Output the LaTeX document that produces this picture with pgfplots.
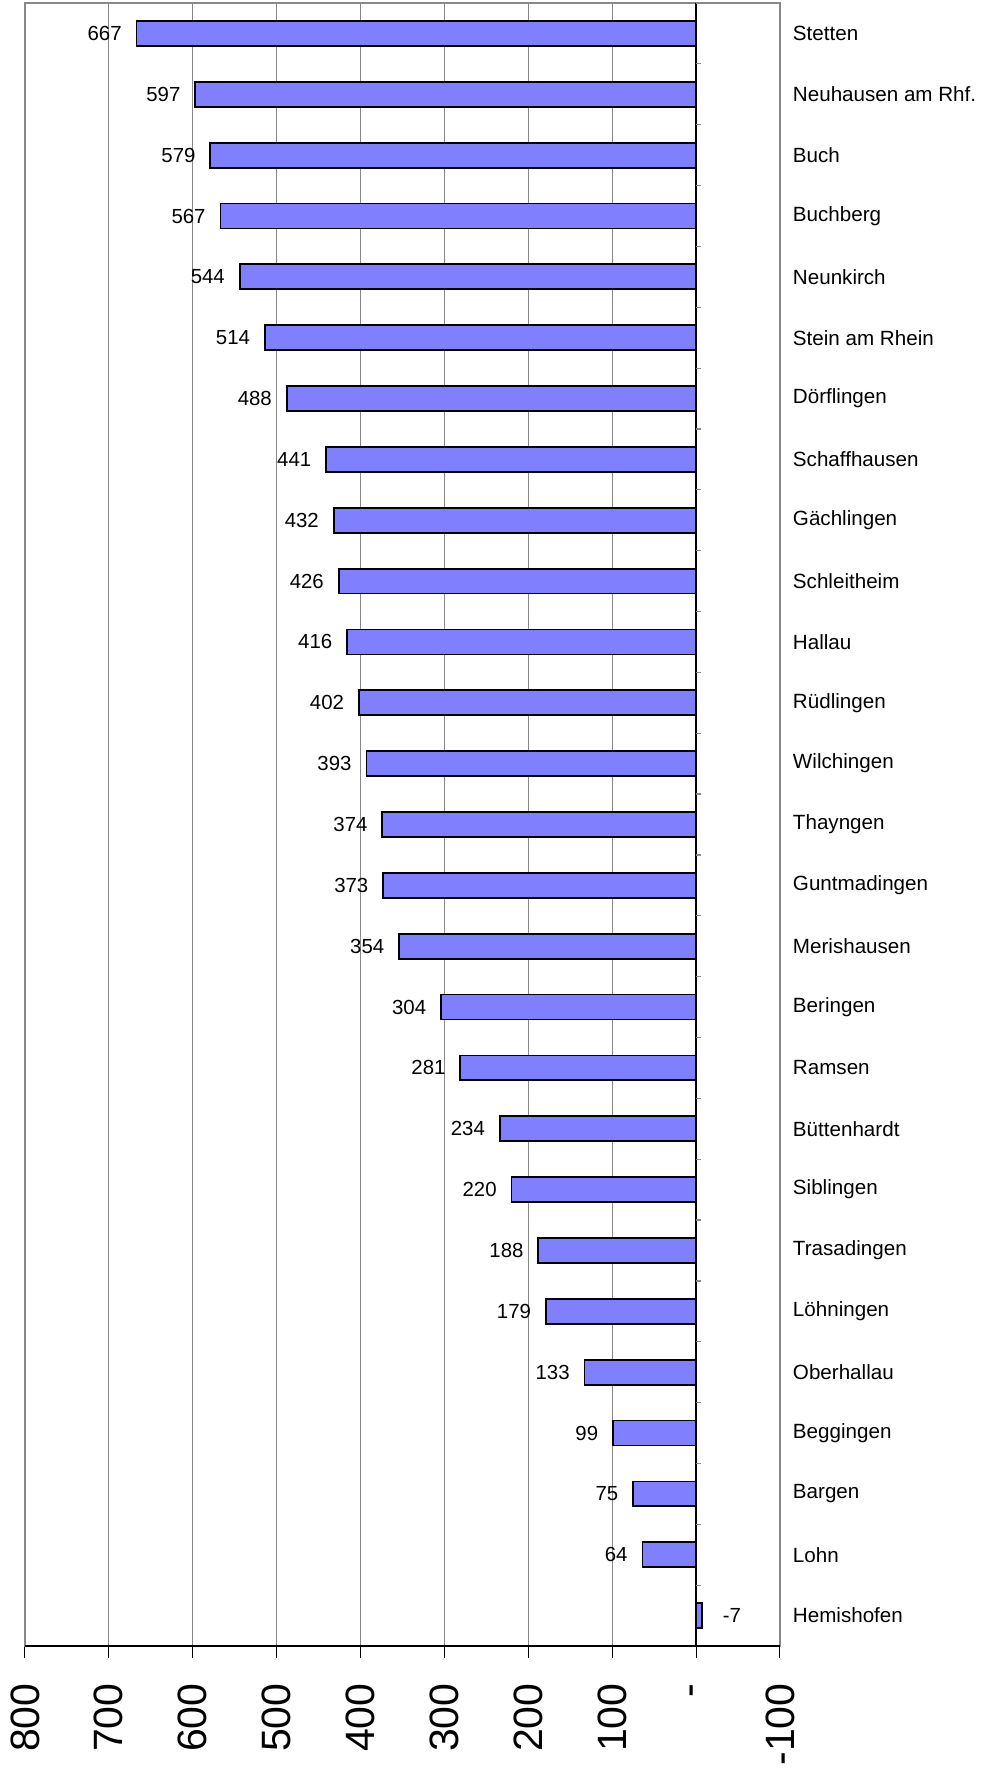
\documentclass[border=0pt]{standalone}
\usepackage{pgfplots}
\pgfplotsset{compat=1.18}
\usepackage{pgfplotstable}
\usepackage{fontspec}
\setmainfont{Liberation Sans}
\definecolor{barfill}{RGB}{128,128,255}
\definecolor{gridgray}{RGB}{136,136,136}

\pgfplotstableread{
idx val
0 667
1 597
2 579
3 567
4 544
5 514
6 488
7 441
8 432
9 426
10 416
11 402
12 393
13 374
14 373
15 354
16 304
17 281
18 234
19 220
20 188
21 179
22 133
23 99
24 75
25 64
}\posdata
\pgfplotstableread{
idx val
26 -7
}\negdata

\begin{document}
\begin{tikzpicture}
\begin{axis}[
  name=ax, scale only axis, width=377.5pt, height=821.5pt,
  xbar, bar width=0.41, bar shift=0pt,
  xmin=-100, xmax=800, x dir=reverse,
  ymin=-0.5, ymax=26.5, y dir=reverse,
  xtick={-100,0,100,200,300,400,500,600,700,800},
  xticklabels={-100,-,100,200,300,400,500,600,700,800},
  xticklabel pos=lower, xtick pos=lower,
  xticklabel style={rotate=90, anchor=east, inner sep=0pt, font=\fontsize{20.5}{24}\selectfont},
  xticklabel shift=12.5pt,
  ytick={0,...,26},
  yticklabels={Stetten,Neuhausen am Rhf.,Buch,Buchberg,Neunkirch,Stein am Rhein,Dörflingen,Schaffhausen,Gächlingen,Schleitheim,Hallau,Rüdlingen,Wilchingen,Thayngen,Guntmadingen,Merishausen,Beringen,Ramsen,Büttenhardt,Siblingen,Trasadingen,Löhningen,Oberhallau,Beggingen,Bargen,Lohn,Hemishofen},
  yticklabel pos=upper,
  yticklabel style={anchor=west, inner sep=0pt, font=\fontsize{10.3}{12}\selectfont},
  yticklabel shift=0.3pt,
  ytick style={draw=none},
  xmajorgrids, major grid style={gridgray, line width=0.5pt},
  axis line style={gridgray, line width=1pt},
  x tick style={black, line width=0.5pt},
  major tick length=6pt, tick align=outside,
  /pgf/number format/assume math mode=true,
  point meta=x,
]
\addplot[fill=barfill, draw=black, line width=0.9pt,
  nodes near coords, nodes near coords align={east},
  every node near coord/.append style={xshift=-7pt, inner sep=0pt, font=\fontsize{10.2}{12}\selectfont, black}]
  table[x=val, y=idx] {\posdata};
\addplot[fill=barfill, draw=black, line width=0.9pt,
  nodes near coords, nodes near coords align={west},
  every node near coord/.append style={xshift=10pt, inner sep=0pt, font=\fontsize{10.2}{12}\selectfont, black}]
  table[x=val, y=idx] {\negdata};
\draw[black, line width=0.6pt] (axis cs:0,-0.5) -- (axis cs:0,26.5);
\pgfplotsinvokeforeach{-0.5,0.5,...,26.5}{
  \draw[gridgray, line width=0.6pt] (axis cs:0,#1) -- (axis cs:-6,#1);
}
\draw[black, line width=1pt] (axis cs:800,26.5) -- (axis cs:-100,26.5);
\end{axis}
\pgfresetboundingbox
\path[use as bounding box] ([xshift=-12.5pt,yshift=-65.5pt]ax.south west) rectangle ([xshift=102pt,yshift=1.5pt]ax.north east);
\end{tikzpicture}
\end{document}
